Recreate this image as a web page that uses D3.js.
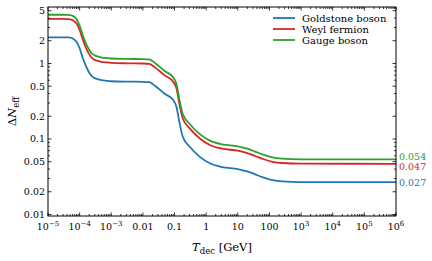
<!DOCTYPE html>
<html>
<head>
<meta charset="utf-8">
<script src="https://cdn.jsdelivr.net/npm/d3@7"></script>
<style>
  body { margin: 0; background: #fff; }
</style>
</head>
<body>
<div class="svg-canvas"></div>
<script>
// Temperature grid (log10 of T in GeV) and the three curves
var logT = [-5, -4.5, -4.4, -4.3, -4.2, -4.1, -4.0, -3.9, -3.8, -3.7, -3.6, -3.5, -3.4, -3.3, -3.15, -3.0, -2.5,
            -2.0, -1.8, -1.6, -1.3, -1.05, -0.94, -0.84, -0.74, -0.52, -0.2, 0.1, 0.5, 1.0,
            1.3, 1.55, 1.8, 2.1, 2.4, 3.0, 6];
var goldstone = [2.22, 2.22, 2.215, 2.2, 2.12, 1.94, 1.59, 1.18, 0.92, 0.76, 0.67, 0.635, 0.615, 0.60, 0.59, 0.582, 0.575,
                 0.572, 0.565, 0.50, 0.394, 0.33, 0.268, 0.161, 0.107, 0.079, 0.058, 0.048, 0.0425, 0.040,
                 0.0372, 0.034, 0.031, 0.0285, 0.0275, 0.0269, 0.0268];
var weyl = [3.89, 3.89, 3.88, 3.85, 3.71, 3.40, 2.78, 2.07, 1.61, 1.33, 1.17, 1.11, 1.076, 1.05, 1.033, 1.02, 1.006,
            1.0, 0.989, 0.875, 0.69, 0.578, 0.469, 0.282, 0.187, 0.138, 0.1015, 0.084, 0.0744, 0.070,
            0.0651, 0.0595, 0.0543, 0.0499, 0.0481, 0.0471, 0.0469];
var gauge = [4.42, 4.42, 4.41, 4.38, 4.24, 3.88, 3.18, 2.36, 1.84, 1.52, 1.34, 1.27, 1.23, 1.20, 1.18, 1.164, 1.15,
             1.144, 1.13, 1.0, 0.788, 0.66, 0.536, 0.322, 0.214, 0.158, 0.116, 0.096, 0.085, 0.080,
             0.0744, 0.068, 0.062, 0.057, 0.055, 0.0538, 0.0536];

var seriesNames = ["Goldstone boson", "Weyl fermion", "Gauge boson"];
var seriesColors = ["#1f77b4", "#d62728", "#2ca02c"];
var endLabels = ["0.027", "0.047", "0.054"];

var xTickLabels = [["10", "\u22125"], ["10", "\u22124"], ["10", "\u22123"], ["0.01"], ["0.1"], ["1"],
                   ["10"], ["100"], ["10", "3"], ["10", "4"], ["10", "5"], ["10", "6"]];
var yTickValues = [0.01, 0.02, 0.05, 0.1, 0.2, 0.5, 1, 2, 5];
var yTickLabels = ["0.01", "0.02", "0.05", "0.1", "0.2", "0.5", "1", "2", "5"];

// Canvas
var W = 432, H = 261;
var m = {top: 7, left: 48, right: 36, bottom: 45};
var pw = W - m.left - m.right, ph = H - m.top - m.bottom;

var svg = d3.select(".svg-canvas").append("svg")
    .attr("width", W)
    .attr("height", H)
    .style("font-family", "'DejaVu Serif', serif");

var x = d3.scaleLog().domain([1e-5, 1e6]).range([m.left, m.left + pw]);
var y = d3.scaleLog().domain([0.00955, 5.6]).range([m.top + ph, m.top]);

// curves
var line = d3.line()
    .x(function(d){ return x(Math.pow(10, d[0])); })
    .y(function(d){ return y(d[1]); })
    .curve(d3.curveMonotoneX);

[goldstone, weyl, gauge].forEach(function(s, i){
    svg.append("path")
        .datum(logT.map(function(t, j){ return [t, s[j]]; }))
        .attr("d", line)
        .attr("fill", "none")
        .attr("stroke", seriesColors[i])
        .attr("stroke-width", 1.8);
});

// frame
svg.append("rect")
    .attr("x", m.left).attr("y", m.top)
    .attr("width", pw).attr("height", ph)
    .attr("fill", "none").attr("stroke", "#000").attr("stroke-width", 1);

// ticks, inward on all four sides
var xt = [];
for (var d = -5; d <= 5; d++) for (var k = 1; k <= 9; k++) xt.push({v: k * Math.pow(10, d), major: k == 1});
xt.push({v: 1e6, major: true});
var yt = [];
for (var d = -3; d <= 0; d++) for (var k = 1; k <= 9; k++) {
    var v = k * Math.pow(10, d);
    if (v >= 0.00955 && v <= 5.6) yt.push({v: v, major: k == 1 || k == 2 || k == 5});
}
var g = svg.append("g").attr("stroke", "#000").attr("stroke-width", 0.8);
xt.forEach(function(t){
    var px = x(t.v), len = t.major ? 3.5 : 2;
    g.append("line").attr("x1", px).attr("x2", px).attr("y1", m.top + ph).attr("y2", m.top + ph - len);
    g.append("line").attr("x1", px).attr("x2", px).attr("y1", m.top).attr("y2", m.top + len);
});
yt.forEach(function(t){
    var py = y(t.v), len = t.major ? 3.5 : 2;
    g.append("line").attr("y1", py).attr("y2", py).attr("x1", m.left).attr("x2", m.left + len);
    g.append("line").attr("y1", py).attr("y2", py).attr("x1", m.left + pw).attr("x2", m.left + pw - len);
});

// tick labels
xTickLabels.forEach(function(l, i){
    var t = svg.append("text")
        .attr("x", x(Math.pow(10, i - 5)))
        .attr("y", m.top + ph + 14)
        .attr("text-anchor", "middle")
        .attr("font-size", 9.5)
        .text(l[0]);
    if (l.length > 1) {
        t.append("tspan").attr("dy", -4).attr("font-size", 7).text(l[1]);
    }
});
yTickValues.forEach(function(v, i){
    svg.append("text")
        .attr("x", m.left - 3)
        .attr("y", y(v) + 3.5)
        .attr("text-anchor", "end")
        .attr("font-size", 9.5)
        .text(yTickLabels[i]);
});

// end values on the right
var endY = [182, 166.5, 156];
endLabels.forEach(function(l, i){
    svg.append("text")
        .attr("x", m.left + pw + 3)
        .attr("y", endY[i] + 3.5)
        .attr("font-size", 9.5)
        .attr("fill", seriesColors[i])
        .text(l);
});

// legend
seriesNames.forEach(function(n, i){
    var ly = 18 + i * 11;
    svg.append("line")
        .attr("x1", 273).attr("x2", 295).attr("y1", ly).attr("y2", ly)
        .attr("stroke", seriesColors[i]).attr("stroke-width", 1.8);
    svg.append("text")
        .attr("x", 302).attr("y", ly + 3.5)
        .attr("font-size", 10)
        .text(n);
});

// axis titles
var xl = svg.append("text")
    .attr("x", m.left + pw / 2)
    .attr("y", 251)
    .attr("text-anchor", "middle")
    .attr("font-size", 11.5);
xl.append("tspan").attr("font-style", "italic").text("T");
xl.append("tspan").attr("dy", 3).attr("font-size", 8.5).text("dec");
xl.append("tspan").attr("dy", -3).text(" [GeV]");

var yl = svg.append("text")
    .attr("transform", "translate(16," + (m.top + ph / 2) + ") rotate(-90)")
    .attr("text-anchor", "middle")
    .attr("font-size", 11.5);
yl.append("tspan").text("\u0394");
yl.append("tspan").attr("font-style", "italic").text("N");
yl.append("tspan").attr("dy", 3).attr("font-size", 8.5).text("eff");
</script>
</body>
</html>
